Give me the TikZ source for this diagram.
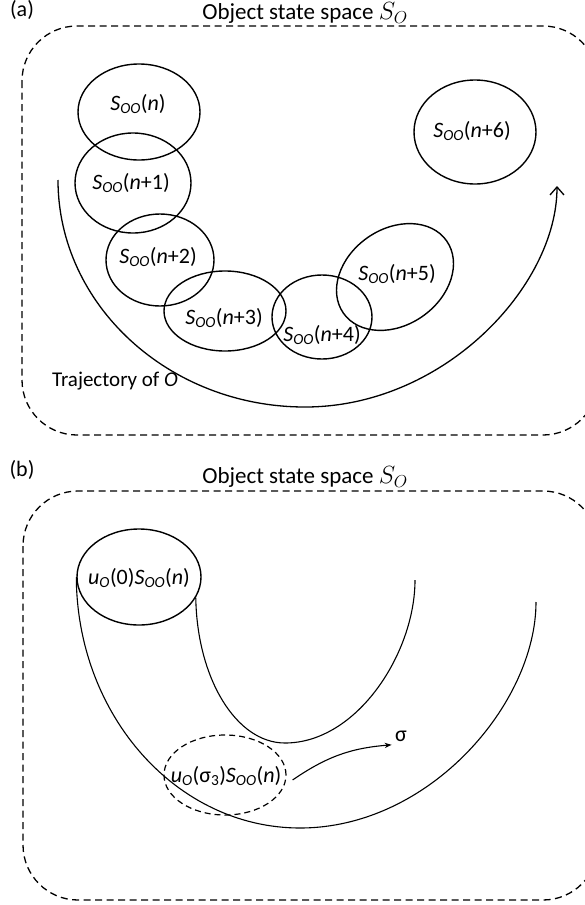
\documentclass[tikz,border=0pt]{standalone}
\usepackage{fontspec}
\setmainfont{Carlito}
\usetikzlibrary{shapes.geometric,arrows.meta,positioning,calc}

\tikzset{
	ospace/.style={line width=1.3pt,dash pattern=on 7pt off 4.5pt,rounded corners=55pt},
	oset/.style={ellipse,draw,line width=1.4pt,inner sep=0pt},
	traj/.style={line width=1.3pt},
	ttl/.style={font=\fontsize{23pt}{26pt}\selectfont},
}
\newcommand{\Soo}[1]{\textit{S}\textsubscript{\textit{OO}}(#1)}
\newcommand{\uo}[1]{\textit{u}\textsubscript{\textit{O}}(#1)}

\begin{document}
\begin{tikzpicture}[x=1pt,y=-1pt,font=\fontsize{22pt}{25pt}\selectfont]
	\useasboundingbox (0,0) rectangle (585,905);
	% (a)
	\node (pa) at (22,10) {(a)};
	\draw [ospace] (22,26) rectangle (598,435);
	\node [ttl] (ta) at (305,13) {Object state space $S_O$};
	\node [oset,minimum width=122pt,minimum height=96pt] (s0) at (139,112) {};
	\node [oset,minimum width=116pt,minimum height=100pt] (s1) at (133,183) {};
	\node [oset,minimum width=108pt,minimum height=92pt] (s2) at (160,260) {};
	\node [oset,minimum width=122pt,minimum height=80pt] (s3) at (225,311) {};
	\node [oset,minimum width=100pt,minimum height=84pt] (s4) at (322,317) {};
	\node [oset,minimum width=126pt,minimum height=96pt,rotate=35] (s5) at (395,277) {};
	\node [oset,minimum width=122pt,minimum height=104pt] (s6) at (475,132) {};
	\node at (138,104) {\Soo{\textit{n}}};
	\node at (131,183) {\Soo{\textit{n}+1}};
	\node at (158,257) {\Soo{\textit{n}+2}};
	\node at (224,318) {\Soo{\textit{n}+3}};
	\node at (322,335) {\Soo{\textit{n}+4}};
	\node at (397,274) {\Soo{\textit{n}+5}};
	\node at (472,131) {\Soo{\textit{n}+6}};
	\coordinate (t0) at (58,180);
	\coordinate (t1) at (557,186);
	\draw [traj,-{Straight Barb[length=8pt,width=14pt]}] (t0) .. controls (58,305) and (169,407) .. (305,407)
		.. controls (444,407) and (557,286) .. (t1);
	\node (tl) at (115,381) {\fontsize{21pt}{24pt}\selectfont Trajectory of \textit{O}};
	% (b)
	\node (pb) at (22,470) {(b)};
	\draw [ospace] (23,491) rectangle (598,900);
	\node [ttl] (tb) at (305,477) {Object state space $S_O$};
	\node [oset,minimum width=124pt,minimum height=96pt] (u0) at (139,577) {};
	\node [oset,line width=1.2pt,dash pattern=on 6pt off 4pt,minimum width=122pt,minimum height=80pt] (u3) at (225,775) {};
	\node at (139,578) {\uo{0}\Soo{\textit{n}}};
	\node at (226,776) {\uo{σ\textsubscript{3}}\Soo{\textit{n}}};
	\coordinate (i1) at (415,580);
	\coordinate (o1) at (536,602);
	\draw [line width=1.1pt] (u0.west) .. controls (77,716) and (177,828) .. (300,828)
		.. controls (430,828) and (536,703) .. (o1);
	\draw [line width=1.1pt] (u0.-20) .. controls (197,678) and (236,743) .. (285,743)
		.. controls (357,743) and (415,653) .. (i1);
	\node (sg) at (401,736) {σ};
	\draw [line width=1.1pt,-{Stealth[length=7pt]}] ($(u3.east)+(6,5)$) to[bend left=15] (sg.south west);
\end{tikzpicture}
\end{document}
